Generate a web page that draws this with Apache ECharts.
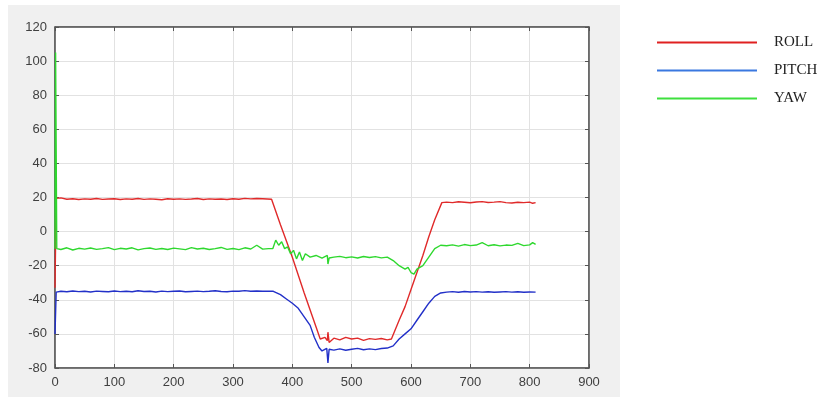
<!DOCTYPE html>
<html>
<head>
<meta charset="utf-8">
<script src="https://cdn.jsdelivr.net/npm/echarts@6/dist/echarts.min.js"></script>
<style>
  html, body {margin:0; padding:0; background:#fff;}
  #chart {width:835px; height:401px;}
</style>
</head>
<body>
<div id="chart"></div>
<script>
"use strict";
// x axis ticks / y axis ticks
var xTicks = [0, 100, 200, 300, 400, 500, 600, 700, 800, 900];
var yTicks = [-80, -60, -40, -20, 0, 20, 40, 60, 80, 100, 120];
var seriesNames = ['ROLL', 'PITCH', 'YAW'];

// ROLL
var rollX = [0, 2, 10, 20, 30, 40, 50, 60, 70, 80, 90, 100, 110, 120, 130, 140, 150, 160, 170, 180, 190, 200, 210, 220, 230, 240, 250, 260, 270, 280, 290, 300, 310, 320, 330, 340, 350, 365,
  380, 400, 420, 440, 447, 455, 459, 460, 462, 470, 480, 490, 500, 510, 520, 530, 540, 550, 560, 567,
  580, 590, 600, 610, 620, 630, 640, 652, 660, 670, 680, 690, 700, 710, 720, 730, 740, 750, 760, 770, 780, 790, 800, 805, 810];
var rollY = [-33, 19.5, 19.8, 19, 19.3, 18.8, 19.2, 19, 19.4, 18.9, 19.1, 19.3, 18.8, 19.2, 19, 19.4, 18.9, 19.2, 19, 18.7, 19.3, 19, 19.2, 18.9, 19.1, 19.4, 18.8, 19.2, 19, 19.1, 18.8, 19.3, 19, 19.5, 19.2, 19.4, 19.3, 19,
  4, -15, -36, -56, -63, -62, -64, -59, -65, -62.5, -63.5, -62, -63, -62.5, -63.8, -62.8, -63.2, -62.7, -63.5, -63,
  -52, -44, -34, -24, -14, -3, 7, 17, 17.3, 17, 17.5, 17.2, 16.9, 17.4, 17.6, 17.1, 17.3, 17.6, 17, 16.8, 17.2, 17, 17.3, 16.6, 17];

// PITCH
var pitchX = [0, 2, 10, 20, 30, 40, 50, 60, 70, 80, 90, 100, 110, 120, 130, 140, 150, 160, 170, 180, 190, 200, 210, 220, 230, 240, 250, 260, 270, 280, 290, 300, 310, 320, 330, 340, 350, 368,
  380, 390, 400, 410, 420, 430, 437, 445, 450, 458, 460, 462, 470, 480, 490, 500, 510, 520, 530, 540, 550, 560,
  570, 580, 590, 600, 610, 620, 630, 640, 650, 660, 670, 680, 690, 700, 710, 720, 730, 740, 750, 760, 770, 780, 790, 800, 810];
var pitchY = [-60, -35.5, -35, -35.3, -34.8, -35.2, -35, -35.4, -34.9, -35.1, -35.3, -34.8, -35.2, -35, -35.3, -34.7, -35.1, -35, -35.4, -34.9, -35.2, -35, -34.8, -35.3, -35.1, -34.9, -35.2, -35, -34.7, -35.1, -35.3, -34.9, -35, -34.6, -35, -34.8, -35, -35,
  -37, -39.5, -42, -45, -50, -55, -62, -68, -70, -68.5, -77, -69, -69.5, -68.8, -69.6, -69, -68.5, -69.3, -68.8, -69.2, -68.6, -68.3,
  -67, -63, -60, -57, -52, -47, -42, -38, -36, -35.5, -35.2, -35.6, -35.1, -35.4, -35.2, -35.5, -35.3, -35.6, -35.4, -35.2, -35.5, -35.3, -35.6, -35.4, -35.5];

// YAW
var yawX = [0, 1, 3, 10, 20, 30, 40, 50, 60, 70, 80, 90, 100, 110, 120, 130, 140, 150, 160, 170, 180, 190, 200, 210, 220, 230, 240, 250, 260, 270, 280, 290, 300, 310, 320, 330, 340, 350, 360, 367, 372, 377, 382, 387, 392, 397, 402, 407, 412, 417, 422, 430, 440, 450, 459, 460, 462, 470, 480, 490, 500, 510, 520, 530, 540, 550, 560,
  570, 580, 590, 595, 600, 605, 610, 620, 630, 640, 650, 660, 670, 680, 690, 700, 710, 720, 730, 740, 750, 760, 770, 780, 790, 800, 805, 810];
var yawY = [-10, 105, -10, -10.5, -9.5, -10.8, -9.8, -10.3, -9.6, -10.4, -10, -9.4, -10.6, -9.8, -10.2, -9.5, -10.7, -10, -9.6, -10.4, -9.9, -10.5, -9.7, -10.1, -10.6, -9.4, -10.2, -9.8, -10.5, -10, -9.3, -10.4, -9.9, -10.6, -9.5, -10.2, -8, -10.3, -10, -10, -5, -8, -6, -10, -9, -13, -11, -16, -12, -17, -13, -15, -14, -15.5, -14, -19, -15.5, -15, -14.5, -15.3, -14.8, -15.5, -14.6, -15.2, -14.7, -15.4, -15,
  -17, -20, -22, -21, -24, -25, -22, -20, -15, -10, -8, -8.3, -7.8, -8.5, -7.6, -8.2, -7.9, -6.5, -8.3, -7.7, -8.4, -7.9, -8.1, -6.9, -8.2, -7.8, -6.5, -7.5];

function pairs(xs, ys) {
  var out = [];
  for (var i = 0; i < xs.length; i++) out.push([xs[i], ys[i]]);
  return out;
}

var chart = echarts.init(document.getElementById('chart'), null, {renderer: 'canvas'});
var lineColors = ['#e02a2a', '#2230c8', '#2ed82e'];
var legendColors = ['#e02020', '#3a78e0', '#3ee03e'];
var tickFont = {color: '#404040', fontSize: 13, fontFamily: 'Liberation Sans, Arial, sans-serif'};
var boxLine = {show: true, onZero: false, lineStyle: {color: '#555', width: 1.5}};
var boxTick = {show: true, inside: true, length: 4, lineStyle: {color: '#555'}};

// axis settings shared by the box sides (MATLAB style box)
function xAx(pos, labels) {
  return {
    type: 'value', position: pos, min: 0, max: 900, interval: 100,
    axisLine: boxLine, axisTick: boxTick,
    axisLabel: labels ? Object.assign({margin: 8}, tickFont) : {show: false},
    splitLine: {show: labels, lineStyle: {color: '#e2e2e2'}}
  };
}
function yAx(pos, labels) {
  return {
    type: 'value', position: pos, min: -80, max: 120, interval: 20,
    axisLine: boxLine, axisTick: boxTick,
    axisLabel: labels ? Object.assign({margin: 8}, tickFont) : {show: false},
    splitLine: {show: labels, lineStyle: {color: '#e2e2e2'}}
  };
}

var option = {
  animation: false,
  backgroundColor: '#fff',
  graphic: [{
    type: 'rect', z: -10, silent: true,
    shape: {x: 8, y: 5, width: 612, height: 392},
    style: {fill: '#f0f0f0'}
  }],
  grid: {
    left: 55, top: 27, width: 534, height: 341,
    show: true, backgroundColor: '#fff', borderColor: '#555', borderWidth: 1
  },
  legend: {
    orient: 'vertical', left: 652, top: 30,
    icon: 'rect', itemWidth: 100, itemHeight: 2, itemGap: 13,
    textStyle: {fontFamily: 'Liberation Serif, Times New Roman, serif', fontSize: 15, color: '#222', padding: [0, 0, 0, 12]},
    data: seriesNames.map(function (n, i) {
      return {name: n, itemStyle: {color: legendColors[i]}};
    })
  },
  xAxis: [xAx('bottom', true), xAx('top', false)],
  yAxis: [yAx('left', true), yAx('right', false)],
  series: [
    {name: 'ROLL', type: 'line', data: pairs(rollX, rollY), showSymbol: false, lineStyle: {width: 1.4, color: lineColors[0]}, itemStyle: {color: lineColors[0]}},
    {name: 'PITCH', type: 'line', data: pairs(pitchX, pitchY), showSymbol: false, lineStyle: {width: 1.4, color: lineColors[1]}, itemStyle: {color: lineColors[1]}},
    {name: 'YAW', type: 'line', data: pairs(yawX, yawY), showSymbol: false, lineStyle: {width: 1.4, color: lineColors[2]}, itemStyle: {color: lineColors[2]}}
  ]
};
chart.setOption(option);
</script>
</body>
</html>
